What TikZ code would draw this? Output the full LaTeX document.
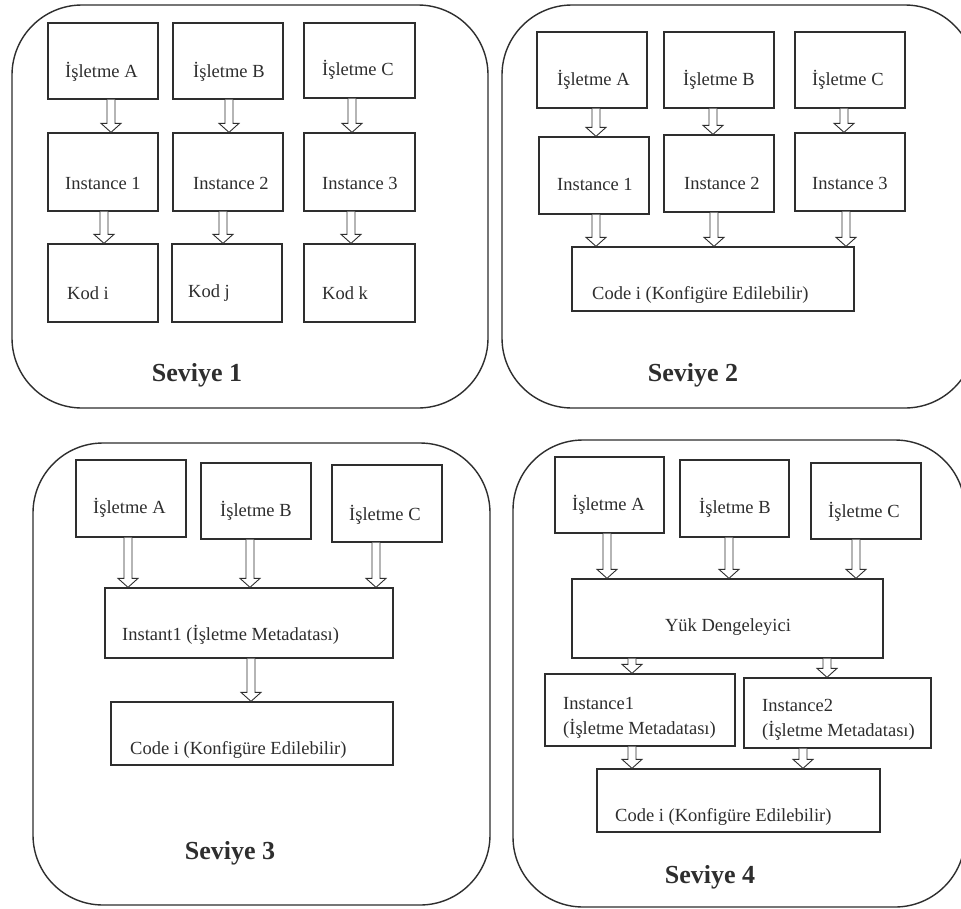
\documentclass[tikz,border=0pt]{standalone}
\usepackage{fontspec}
\setmainfont{Liberation Serif}
\usetikzlibrary{calc}

\definecolor{ink}{HTML}{2E2E2E}

\tikzset{
  panel/.style={draw=ink, line width=1.4pt, rounded corners=70pt},
  box/.style={draw=ink, line width=1.3pt, fill=white, inner sep=0pt, rectangle},
  txt/.style={anchor=west, inner sep=0pt, text=ink, font=\fontsize{18.5}{21}\selectfont},
  twoline/.style={txt, align=left, font=\fontsize{18.5}{25}\selectfont},
  title/.style={inner sep=0pt, text=ink, font=\fontsize{26}{28}\selectfont\bfseries},
  arr/.style={draw=ink, line width=0.9pt, fill=white, line join=miter},
}

% box from its corners (x1,y1) to (x2,y2), named #1
\newcommand\bx[5]{%
  \node[box, minimum width={#4-#2}, minimum height={#5-#3}] (#1)
    at ({(#2+#4)/2},{(#3+#5)/2}) {};}

% hollow block arrow at abscissa #1, from the bottom of #2 to the top of #3
\newcommand\blk[3]{%
  \draw[arr] let \p1=(#1,0 |- #2.south), \p2=(#1,0 |- #3.north) in
    (\x1-4pt,\y1) -- (\x1-4pt,\y2+9pt) -- (\x1-10pt,\y2+9pt) -- (\x1,\y2)
    -- (\x1+10pt,\y2+9pt) -- (\x1+4pt,\y2+9pt) -- (\x1+4pt,\y1);}

\begin{document}
\begin{tikzpicture}[x=1pt, y=-1pt]
\useasboundingbox (0,0) rectangle (961,908);
\fill[white] (0,0) rectangle (961,908);
\clip (0,0) rectangle (961,908);

% ---------------- Seviye 1 ----------------
\draw[panel] (12,5) rectangle (488,408);
\bx{p1a}{48}{23}{158}{99}
\bx{p1b}{173}{23}{283}{99}
\bx{p1c}{304}{23}{415}{98}
\bx{p1i1}{48}{133}{158}{211}
\bx{p1i2}{173}{133}{283}{211}
\bx{p1i3}{304}{133}{415}{211}
\bx{p1k1}{48}{244}{158}{322}
\bx{p1k2}{172}{244}{282}{322}
\bx{p1k3}{304}{244}{415}{322}
\node[txt] (t1a) at (65,72) {İşletme A};
\node[txt] (t1b) at (193,72) {İşletme B};
\node[txt] (t1c) at (322,70) {İşletme C};
\node[txt] (t1i1) at (65,183) {Instance 1};
\node[txt] (t1i2) at (193,183) {Instance 2};
\node[txt] (t1i3) at (322,183) {Instance 3};
\node[txt] (t1k1) at (67,293) {Kod i};
\node[txt] (t1k2) at (188,293) {Kod j};
\node[txt] (t1k3) at (322,293) {Kod k};
\blk{111}{p1a}{p1i1}
\blk{229}{p1b}{p1i2}
\blk{352}{p1c}{p1i3}
\blk{104}{p1i1}{p1k1}
\blk{223}{p1i2}{p1k2}
\blk{351}{p1i3}{p1k3}
\node[title] (s1) at (197,375) {Seviye 1};

% ---------------- Seviye 2 ----------------
\draw[panel] (502,5) rectangle (975,408);
\bx{p2a}{537}{32}{647}{108}
\bx{p2b}{664}{32}{774}{108}
\bx{p2c}{795}{32}{905}{108}
\bx{p2i1}{539}{137}{649}{214}
\bx{p2i2}{664}{135}{774}{212}
\bx{p2i3}{795}{133}{905}{211}
\bx{p2code}{572}{247}{854}{311}
\node[txt] (t2a) at (557,80) {İşletme A};
\node[txt] (t2b) at (683,80) {İşletme B};
\node[txt] (t2c) at (812,80) {İşletme C};
\node[txt] (t2i1) at (557,184) {Instance 1};
\node[txt] (t2i2) at (684,183) {Instance 2};
\node[txt] (t2i3) at (812,183) {Instance 3};
\node[txt] (t2code) at (592,295) {Code i (Konfigüre Edilebilir)};
\blk{596}{p2a}{p2i1}
\blk{713}{p2b}{p2i2}
\blk{844}{p2c}{p2i3}
\blk{596}{p2i1}{p2code}
\blk{714}{p2i2}{p2code}
\blk{846}{p2i3}{p2code}
\node[title] (s2) at (693,375) {Seviye 2};

% ---------------- Seviye 3 ----------------
\draw[panel] (33,443) rectangle (490,905);
\bx{p3a}{76}{460}{186}{537}
\bx{p3b}{201}{463}{311}{539}
\bx{p3c}{332}{465}{442}{542}
\bx{p3inst}{105}{588}{393}{658}
\bx{p3code}{111}{702}{393}{765}
\node[txt] (t3a) at (93,508) {İşletme A};
\node[txt] (t3b) at (220,511) {İşletme B};
\node[txt] (t3c) at (349,515) {İşletme C};
\node[txt] (t3inst) at (122,635) {Instant1 (İşletme Metadatası)};
\node[txt] (t3code) at (130,750) {Code i (Konfigüre Edilebilir)};
\blk{128}{p3a}{p3inst}
\blk{250}{p3b}{p3inst}
\blk{376}{p3c}{p3inst}
\blk{251}{p3inst}{p3code}
\node[title] (s3) at (230,853) {Seviye 3};

% ---------------- Seviye 4 ----------------
\draw[panel] (513,440) rectangle (965,907);
\bx{p4a}{555}{457}{664}{533}
\bx{p4b}{680}{460}{789}{537}
\bx{p4c}{811}{463}{921}{539}
\bx{p4lb}{572}{579}{883}{658}
\bx{p4i1}{545}{674}{735}{746}
\bx{p4i2}{744}{678}{931}{748}
\bx{p4code}{597}{769}{880}{832}
\node[txt] (t4a) at (572,505) {İşletme A};
\node[txt] (t4b) at (699,508) {İşletme B};
\node[txt] (t4c) at (828,512) {İşletme C};
\node[txt, anchor=center] (t4lb) at (728,627) {Yük Dengeleyici};
\node[twoline] (t4i1) at (563,717.5) {Instance1\\(İşletme Metadatası)};
\node[twoline] (t4i2) at (762,720) {Instance2\\(İşletme Metadatası)};
\node[txt] (t4code) at (615,817) {Code i (Konfigüre Edilebilir)};
\blk{607}{p4a}{p4lb}
\blk{729}{p4b}{p4lb}
\blk{856}{p4c}{p4lb}
\blk{632}{p4lb}{p4i1}
\blk{827}{p4lb}{p4i2}
\blk{632}{p4i1}{p4code}
\blk{803}{p4i2}{p4code}
\node[title] (s4) at (710,877) {Seviye 4};
\end{tikzpicture}
\end{document}
